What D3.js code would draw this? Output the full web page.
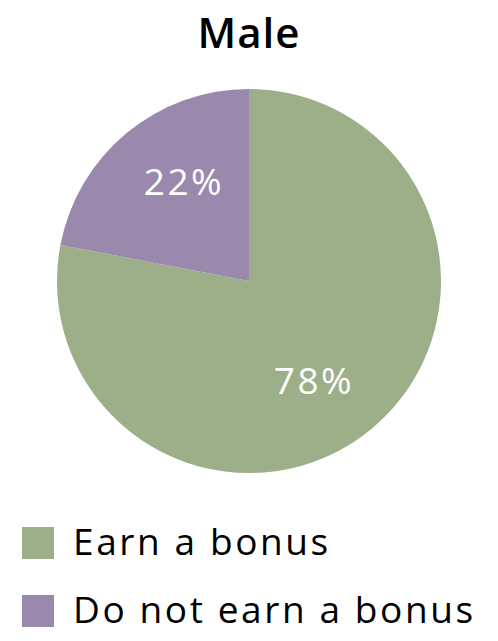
<!DOCTYPE html>
<html><head><meta charset="utf-8">
<script src="https://cdn.jsdelivr.net/npm/d3@7"></script>
<style>body{margin:0;background:#fff}svg{display:block}</style>
</head><body>
<svg id="chart" width="498" height="641"></svg>
<script>
const title = "Male";
const categories = ["Earn a bonus", "Do not earn a bonus"];
const values = [78, 22];
const colors = ["#9caf88", "#9b88ad"];

const font = "'Open Sans', Lato, sans-serif";
const svg = d3.select("#chart");
const cx = 249, cy = 281, R = 192;

svg.append("text").attr("x", cx).attr("y", 48).attr("text-anchor", "middle")
  .attr("font-family", font).attr("font-weight", 600).attr("font-size", 42)
  .attr("letter-spacing", 1).attr("fill", "#000").text(title);

const data = categories.map((c, i) => ({cat: c, value: values[i], color: colors[i]}));
const pie = d3.pie().sort(null).value(d => d.value);
const arc = d3.arc().innerRadius(0).outerRadius(R);
const g = svg.append("g").attr("transform", `translate(${cx},${cy})`);
const arcs = pie(data);
g.selectAll("path").data(arcs).join("path").attr("d", arc).attr("fill", d => d.data.color);
const shift = 6.5 * Math.PI / 180;
g.selectAll("text").data(arcs).join("text")
  .attr("transform", d => `translate(${d3.pointRadial((d.startAngle + d.endAngle) / 2 + shift, 119)})`)
  .attr("text-anchor", "middle").attr("dy", "0.36em")
  .attr("font-family", font).attr("font-size", 37).attr("letter-spacing", 2.5).attr("fill", "#fff")
  .text(d => d.data.value + "%");

const leg = svg.append("g");
const rows = leg.selectAll("g").data(data).join("g")
  .attr("transform", (d, i) => `translate(22,${527 + i * 68})`);
rows.append("rect").attr("width", 32).attr("height", 32).attr("fill", d => d.color);
rows.append("text").attr("x", 51).attr("y", 28)
  .attr("font-family", font).attr("font-size", 37).attr("letter-spacing", 2.6).attr("fill", "#000")
  .text(d => d.cat);
</script>
</body></html>
